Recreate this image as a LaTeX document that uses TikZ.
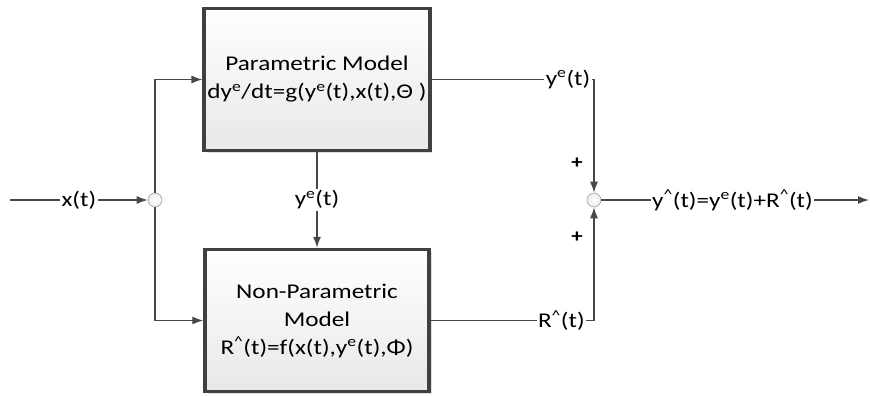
\documentclass[tikz,border=0pt]{standalone}
\usepackage{fontspec}
\setmainfont{Carlito}[FakeStretch=1.2]
\usetikzlibrary{arrows.meta,shadows}

\begin{document}
\begin{tikzpicture}[x=1pt, y=-1pt, font=\fontsize{21}{28}\selectfont]
% Parametric / non-parametric hybrid model
\providecommand{\hybLineColor}{black!72}
\providecommand{\hybBorderColor}{black!75}
\providecommand{\hybLineWidth}{1.3pt}
\providecommand{\hybBorderWidth}{3.5pt}
\tikzset{
  modelbox/.style={draw=\hybBorderColor, line width=\hybBorderWidth,
    top color=white, bottom color=black!9, align=center,
    minimum width=224pt, minimum height=142pt,
    drop shadow={shadow xshift=2.5pt, shadow yshift=-2.5pt, opacity=0.25}},
  junction/.style={circle, draw=black!35, line width=0.6pt, inner sep=0pt,
    minimum size=14pt, inner color=white, outer color=black!8},
  signal/.style={draw=\hybLineColor, line width=\hybLineWidth,
    -{Latex[length=11pt, width=8pt]}},
  siglabel/.style={fill=white, inner sep=1.5pt},
  signmark/.style={font=\fontsize{19}{24}\selectfont\bfseries}
}
\useasboundingbox (0,0) rectangle (870,396);
% Blocks
\node[modelbox] (param) at (317,79.5)
  {Parametric Model\\dy\textsuperscript{e}/dt=g(y\textsuperscript{e}(t),x(t),Θ )};
\node[modelbox] (nonparam) at (317,320.5)
  {Non-Parametric\\Model\\R\textsuperscript{\textasciicircum}(t)=f(x(t),y\textsuperscript{e}(t),Φ)};
% Junctions
\node[junction] (split) at (155,200) {};
\node[junction] (sum) at (594,200) {};
\coordinate (input) at (10,200);
\coordinate (output) at (869,200);
% Signs at the summing point
\node[signmark] (plusA) at (577,163) {+};
\node[signmark] (plusB) at (577,237) {+};
% Signals
\draw[signal] (input) -- node[siglabel] {x(t)} (split);
\draw[signal] (split.north) |- (param.west);
\draw[signal] (split.south) |- (nonparam.west);
\draw[signal] (param.south) -- node[siglabel] {y\textsuperscript{e}(t)} (nonparam.north);
\draw[signal] (param.east) -| node[siglabel, pos=0.42] {y\textsuperscript{e}(t)} (sum.north);
\draw[signal] (nonparam.east) -| node[siglabel, pos=0.40] {R\textsuperscript{\textasciicircum}(t)} (sum.south);
\draw[signal] (sum) -- node[siglabel, pos=0.49]
  {y\textsuperscript{\textasciicircum}(t)=y\textsuperscript{e}(t)+R\textsuperscript{\textasciicircum}(t)} (output);
\end{tikzpicture}
\end{document}
